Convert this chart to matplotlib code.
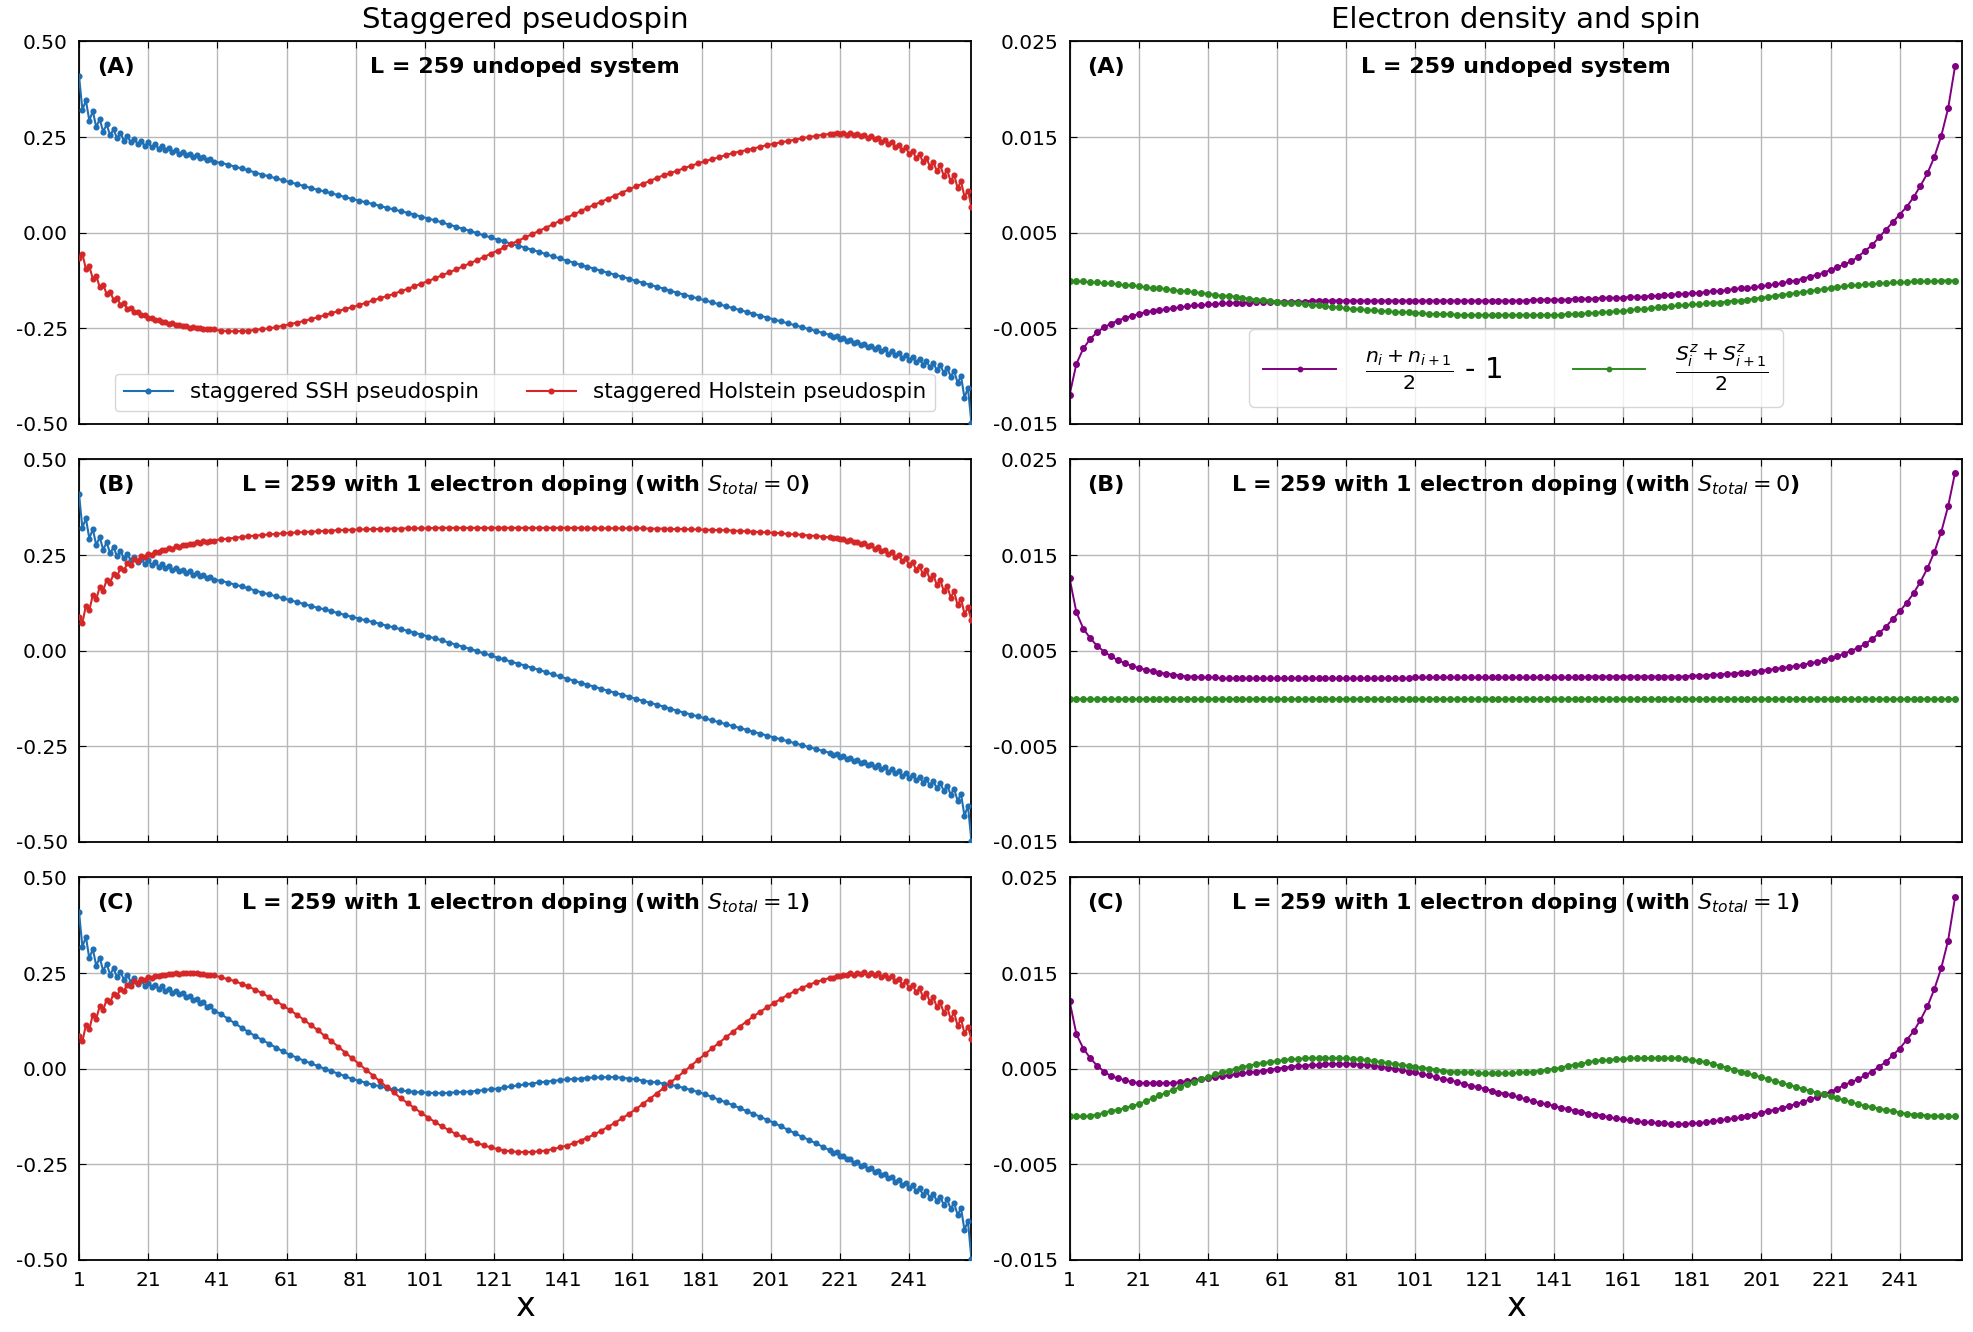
import matplotlib
matplotlib.use("Agg")
import matplotlib.pyplot as plt

plt.rcParams["axes.unicode_minus"] = False
plt.rcParams["mathtext.fontset"] = "dejavusans"

# ------------------------------------------------------------------ data
# left column: every site near the chain ends, every 2nd site in the bulk
SITES_LEFT = list(range(1, 41)) + list(range(42, 219, 2)) + list(range(219, 260))
# right column: bond averages on odd sites
SITES_RIGHT = list(range(1, 258, 2))
XTICKS = [1, 21, 41, 61, 81, 101, 121, 141, 161, 181, 201, 221, 241]

SSH_A = [
    .410, .321, .346, .293, .318, .276, .297, .264, .283, .255,
    .270, .247, .260, .241, .252, .236, .246, .231, .240, .227,
    .236, .224, .231, .220, .226, .215, .221, .211, .216, .207,
    .211, .202, .207, .198, .202, .194, .197, .189, .192, .185,
    .183, .178, .173, .168, .163, .157, .152, .147, .142, .137,
    .132, .127, .122, .117, .112, .108, .103, .098, .093, .088,
    .084, .079, .075, .070, .065, .061, .056, .052, .047, .042,
    .037, .032, .027, .021, .016, .010, .005, -.001, -.007, -.012,
    -.018, -.023, -.029, -.034, -.039, -.045, -.050, -.056, -.062, -.067,
    -.073, -.078, -.084, -.089, -.094, -.100, -.105, -.110, -.115, -.120,
    -.126, -.131, -.136, -.141, -.146, -.152, -.157, -.162, -.167, -.172,
    -.177, -.182, -.187, -.192, -.197, -.202, -.207, -.212, -.217, -.222,
    -.227, -.232, -.237, -.242, -.247, -.252, -.257, -.262, -.267,
    -.273, -.270, -.278, -.275, -.283, -.280, -.289, -.285, -.294, -.290,
    -.299, -.295, -.305, -.300, -.310, -.305, -.316, -.310, -.321, -.315,
    -.327, -.320, -.332, -.325, -.339, -.330, -.345, -.336, -.352, -.341,
    -.359, -.346, -.366, -.353, -.376, -.361, -.392, -.375, -.432, -.405,
    -.497,
]
HOL_A = [
    -.065, -.055, -.095, -.088, -.120, -.113, -.142, -.136, -.160, -.155,
    -.175, -.171, -.188, -.185, -.199, -.196, -.208, -.206, -.216, -.214,
    -.223, -.222, -.229, -.228, -.234, -.233, -.238, -.237, -.242, -.241,
    -.245, -.244, -.248, -.247, -.250, -.249, -.252, -.251, -.253, -.253,
    -.256, -.257, -.258, -.257, -.256, -.254, -.252, -.250, -.247, -.243,
    -.239, -.235, -.231, -.226, -.221, -.216, -.210, -.205, -.199, -.195,
    -.189, -.183, -.177, -.171, -.166, -.160, -.153, -.147, -.140, -.133,
    -.126, -.119, -.111, -.104, -.096, -.088, -.080, -.072, -.064, -.055,
    -.047, -.038, -.029, -.021, -.012, -.004, .005, .013, .022, .031,
    .039, .048, .056, .065, .073, .081, .089, .097, .105, .113,
    .121, .128, .135, .143, .150, .156, .162, .169, .175, .181,
    .187, .192, .197, .203, .208, .212, .216, .220, .225, .229,
    .233, .236, .240, .243, .247, .250, .253, .256, .258,
    .257, .260, .258, .261, .256, .260, .255, .258, .252, .256,
    .248, .252, .244, .247, .238, .243, .232, .237, .224, .230,
    .215, .223, .206, .214, .195, .205, .185, .196, .173, .186,
    .161, .176, .149, .164, .134, .152, .117, .134, .094, .110,
    .068,
]
SSH_B = SSH_A  # the SSH curve in (B) lies on top of the one in (A)
HOL_B = [
    .089, .073, .117, .106, .145, .134, .167, .157, .185, .178,
    .200, .195, .215, .210, .228, .223, .239, .235, .247, .244,
    .254, .251, .259, .257, .264, .262, .269, .267, .273, .272,
    .277, .276, .280, .279, .283, .282, .286, .285, .288, .288,
    .291, .293, .295, .297, .299, .301, .302, .304, .305, .307,
    .308, .309, .310, .311, .312, .313, .314, .315, .316, .316,
    .317, .317, .318, .318, .319, .319, .319, .320, .320, .320,
    .320, .321, .321, .321, .321, .321, .321, .321, .321, .321,
    .321, .321, .321, .321, .321, .321, .321, .321, .321, .321,
    .321, .321, .321, .320, .320, .320, .320, .320, .320, .320,
    .320, .320, .319, .319, .319, .318, .318, .318, .317, .317,
    .316, .316, .315, .315, .314, .313, .312, .311, .310, .309,
    .308, .307, .305, .304, .303, .301, .300, .298, .296,
    .294, .295, .291, .293, .287, .289, .283, .285, .279, .282,
    .273, .276, .267, .270, .260, .264, .253, .257, .244, .249,
    .234, .241, .224, .232, .212, .222, .200, .210, .187, .198,
    .172, .185, .156, .170, .139, .155, .119, .136, .096, .113,
    .080,
]
SSH_C = [
    .410, .318, .345, .288, .313, .269, .290, .256, .274, .246,
    .262, .239, .253, .233, .245, .227, .238, .222, .232, .216,
    .225, .214, .220, .209, .215, .204, .209, .199, .204, .194,
    .197, .187, .190, .180, .182, .172, .173, .162, .163, .152,
    .143, .131, .119, .107, .096, .085, .075, .065, .055, .045,
    .036, .029, .021, .014, .007, .000, -.007, -.013, -.020, -.027,
    -.032, -.037, -.042, -.046, -.051, -.054, -.057, -.059, -.061, -.062,
    -.063, -.064, -.064, -.063, -.062, -.061, -.060, -.058, -.056, -.054,
    -.052, -.049, -.046, -.044, -.041, -.039, -.036, -.034, -.032, -.030,
    -.028, -.027, -.026, -.024, -.023, -.023, -.022, -.022, -.024, -.026,
    -.028, -.031, -.034, -.036, -.039, -.042, -.046, -.051, -.056, -.061,
    -.067, -.074, -.081, -.088, -.095, -.103, -.111, -.118, -.126, -.134,
    -.142, -.151, -.160, -.169, -.178, -.186, -.195, -.204, -.213,
    -.220, -.219, -.229, -.227, -.237, -.236, -.246, -.243, -.254, -.251,
    -.262, -.259, -.270, -.267, -.278, -.275, -.287, -.282, -.295, -.290,
    -.303, -.298, -.312, -.305, -.320, -.313, -.329, -.320, -.337, -.327,
    -.346, -.335, -.356, -.342, -.366, -.351, -.382, -.365, -.422, -.398,
    -.497,
]
HOL_C = [
    .086, .072, .113, .103, .141, .131, .163, .154, .180, .173,
    .196, .190, .209, .204, .219, .215, .228, .225, .235, .232,
    .240, .238, .243, .242, .246, .245, .248, .247, .249, .248,
    .250, .249, .250, .249, .249, .248, .248, .246, .246, .244,
    .239, .234, .229, .222, .215, .206, .197, .187, .177, .165,
    .153, .141, .128, .114, .101, .086, .072, .057, .042, .027,
    .012, -.003, -.018, -.033, -.048, -.062, -.077, -.090, -.103, -.116,
    -.128, -.140, -.151, -.161, -.171, -.179, -.187, -.194, -.200, -.206,
    -.210, -.214, -.216, -.218, -.218, -.218, -.216, -.214, -.210, -.206,
    -.201, -.195, -.188, -.180, -.172, -.162, -.152, -.141, -.130, -.118,
    -.106, -.092, -.079, -.065, -.051, -.036, -.022, -.007, .008, .023,
    .038, .053, .067, .082, .096, .110, .123, .137, .149, .161,
    .172, .183, .193, .203, .211, .219, .226, .232, .237,
    .238, .242, .242, .246, .244, .249, .246, .250, .247, .252,
    .246, .251, .244, .249, .240, .246, .236, .241, .229, .235,
    .220, .228, .211, .219, .200, .210, .188, .198, .175, .187,
    .161, .174, .146, .161, .130, .147, .112, .130, .092, .110,
    .078,
]

DENS_A = [
    -.0120, -.0087, -.0071, -.0061, -.0054, -.0049, -.0045, -.0042, -.0039, -.0037,
    -.0035, -.0033, -.0032, -.0031, -.0030, -.0029, -.0028, -.0027, -.0026, -.0026,
    -.0025, -.0025, -.0024, -.0024, -.0023, -.0023, -.0023, -.0022, -.0022, -.0022,
    -.0022, -.0022, -.0022, -.0022, -.0022, -.0021, -.0021, -.0021, -.0021, -.0021,
    -.0021, -.0021, -.0021, -.0021, -.0021, -.0021, -.0021, -.0021, -.0021, -.0021,
    -.0021, -.0021, -.0021, -.0021, -.0021, -.0021, -.0021, -.0021, -.0021, -.0021,
    -.0021, -.0021, -.0021, -.0021, -.0021, -.0021, -.0021, -.0020, -.0020, -.0020,
    -.0020, -.0020, -.0020, -.0019, -.0019, -.0019, -.0019, -.0018, -.0018, -.0018,
    -.0018, -.0017, -.0017, -.0017, -.0016, -.0016, -.0015, -.0015, -.0014, -.0014,
    -.0013, -.0013, -.0012, -.0011, -.0011, -.0010, -.0009, -.0008, -.0008, -.0007,
    -.0006, -.0005, -.0004, -.0003, -.0001, .0000, .0002, .0004, .0006, .0008,
    .0011, .0014, .0017, .0020, .0025, .0031, .0037, .0045, .0053, .0061,
    .0069, .0077, .0087, .0099, .0112, .0129, .0151, .0180, .0224,
]
SPIN_A = [
    .0000, -.0001, -.0001, -.0002, -.0002, -.0003, -.0003, -.0004, -.0005, -.0005,
    -.0006, -.0007, -.0008, -.0008, -.0009, -.0010, -.0011, -.0011, -.0012, -.0013,
    -.0014, -.0015, -.0016, -.0016, -.0017, -.0018, -.0019, -.0020, -.0020, -.0021,
    -.0022, -.0023, -.0023, -.0024, -.0025, -.0026, -.0026, -.0027, -.0028, -.0028,
    -.0029, -.0030, -.0030, -.0031, -.0031, -.0032, -.0032, -.0033, -.0033, -.0033,
    -.0034, -.0034, -.0035, -.0035, -.0035, -.0035, -.0036, -.0036, -.0036, -.0036,
    -.0036, -.0036, -.0036, -.0036, -.0036, -.0036, -.0036, -.0036, -.0036, -.0036,
    -.0036, -.0036, -.0035, -.0035, -.0035, -.0034, -.0034, -.0033, -.0033, -.0032,
    -.0032, -.0031, -.0030, -.0030, -.0029, -.0028, -.0028, -.0027, -.0026, -.0026,
    -.0025, -.0025, -.0024, -.0023, -.0023, -.0022, -.0021, -.0021, -.0020, -.0019,
    -.0018, -.0017, -.0016, -.0015, -.0014, -.0013, -.0012, -.0011, -.0010, -.0009,
    -.0008, -.0007, -.0006, -.0005, -.0005, -.0004, -.0004, -.0003, -.0003, -.0002,
    -.0002, -.0002, -.0001, -.0001, -.0001, -.0001, .0000, .0000, .0000,
]
DENS_B = [
    .0126, .0090, .0073, .0063, .0055, .0049, .0044, .0040, .0037, .0034,
    .0032, .0030, .0029, .0027, .0026, .0025, .0024, .0023, .0023, .0022,
    .0022, .0022, .0021, .0021, .0021, .0021, .0021, .0021, .0021, .0021,
    .0021, .0021, .0021, .0021, .0021, .0021, .0021, .0021, .0021, .0021,
    .0021, .0021, .0021, .0021, .0021, .0021, .0021, .0021, .0021, .0021,
    .0022, .0022, .0022, .0022, .0022, .0022, .0022, .0022, .0022, .0022,
    .0022, .0022, .0022, .0022, .0022, .0022, .0022, .0022, .0022, .0022,
    .0022, .0022, .0022, .0022, .0022, .0023, .0023, .0023, .0023, .0023,
    .0023, .0023, .0023, .0023, .0023, .0023, .0023, .0023, .0023, .0023,
    .0024, .0024, .0024, .0025, .0025, .0026, .0026, .0027, .0027, .0028,
    .0029, .0030, .0031, .0032, .0033, .0034, .0035, .0037, .0038, .0040,
    .0042, .0044, .0047, .0050, .0053, .0057, .0062, .0068, .0075, .0083,
    .0091, .0100, .0110, .0122, .0136, .0153, .0174, .0201, .0236,
]
SPIN_B = [
    0., 0., 0., 0., 0., 0., 0., 0., 0., 0., 0., 0., 0., 0., 0., 0.,
    0., 0., 0., 0., 0., 0., 0., 0., 0., 0., 0., 0., 0., 0., 0., 0.,
    0., 0., 0., 0., 0., 0., 0., 0., 0., 0., 0., 0., 0., 0., 0., 0.,
    0., 0., 0., 0., 0., 0., 0., 0., 0., 0., 0., 0., 0., 0., 0., 0.,
    0., 0., 0., 0., 0., 0., 0., 0., 0., 0., 0., 0., 0., 0., 0., 0.,
    0., 0., 0., 0., 0., 0., 0., 0., 0., 0., 0., 0., 0., 0., 0., 0.,
    0., 0., 0., 0., 0., 0., 0., 0., 0., 0., 0., 0., 0., 0., 0., 0.,
    0., 0., 0., 0., 0., 0., 0., 0., 0., 0., 0., 0., 0., 0., 0., 0.,
    0.,
]
DENS_C = [
    .0121, .0086, .0071, .0061, .0053, .0047, .0042, .0040, .0038, .0036,
    .0035, .0035, .0035, .0035, .0035, .0035, .0036, .0037, .0038, .0039,
    .0040, .0041, .0042, .0043, .0044, .0045, .0046, .0047, .0048, .0049,
    .0050, .0051, .0052, .0053, .0053, .0054, .0054, .0055, .0055, .0055,
    .0055, .0055, .0054, .0054, .0053, .0052, .0051, .0050, .0049, .0047,
    .0046, .0044, .0043, .0041, .0039, .0038, .0036, .0034, .0032, .0031,
    .0029, .0027, .0025, .0024, .0022, .0020, .0018, .0016, .0014, .0013,
    .0011, .0009, .0008, .0006, .0005, .0003, .0002, .0001, -.0001, -.0002,
    -.0003, -.0004, -.0005, -.0006, -.0006, -.0007, -.0007, -.0008, -.0008, -.0008,
    -.0007, -.0007, -.0006, -.0005, -.0004, -.0003, -.0002, -.0001, .0001, .0002,
    .0004, .0006, .0007, .0009, .0011, .0013, .0015, .0018, .0020, .0023,
    .0026, .0029, .0033, .0036, .0039, .0043, .0047, .0052, .0057, .0064,
    .0071, .0080, .0089, .0101, .0115, .0133, .0155, .0184, .0229,
]
SPIN_C = [
    .0000, .0000, .0000, .0001, .0002, .0004, .0006, .0007, .0009, .0011,
    .0013, .0016, .0019, .0022, .0025, .0028, .0031, .0034, .0036, .0039,
    .0041, .0044, .0046, .0048, .0050, .0052, .0053, .0055, .0056, .0057,
    .0058, .0059, .0060, .0060, .0061, .0061, .0061, .0061, .0061, .0061,
    .0061, .0060, .0060, .0059, .0058, .0057, .0056, .0055, .0054, .0053,
    .0052, .0051, .0050, .0049, .0048, .0047, .0047, .0046, .0046, .0045,
    .0045, .0045, .0045, .0045, .0045, .0046, .0046, .0047, .0048, .0049,
    .0050, .0051, .0053, .0054, .0055, .0057, .0058, .0059, .0059, .0060,
    .0060, .0061, .0061, .0061, .0061, .0061, .0061, .0061, .0061, .0060,
    .0059, .0058, .0057, .0055, .0053, .0051, .0049, .0047, .0045, .0043,
    .0041, .0039, .0037, .0035, .0033, .0031, .0029, .0027, .0025, .0023,
    .0021, .0019, .0017, .0015, .0013, .0011, .0010, .0008, .0007, .0006,
    .0004, .0003, .0002, .0002, .0001, .0001, .0000, .0000, .0000,
]

PANEL_TAGS = ["(A)", "(B)", "(C)"]
PANEL_TITLES = [
    "L = 259 undoped system",
    r"L = 259 with 1 electron doping (with $S_{total} = 0$)",
    r"L = 259 with 1 electron doping (with $S_{total} = 1$)",
]

SSH_COLOR = "#1f6fb4"
HOL_COLOR = "#d62728"
DENS_COLOR = "#800080"
SPIN_COLOR = "#2e8b22"

# ------------------------------------------------------------------ layout
fig = plt.figure(figsize=(19.74, 13.32), dpi=100)
COL_X = [0.0400, 0.5418]
ROW_Y = [0.6817, 0.3679, 0.0541]
AX_W, AX_H = 0.4521, 0.2872


def style_axes(ax, ylim, yticks, yfmt, bottom):
    ax.set_xlim(1, 259)
    ax.set_ylim(*ylim)
    ax.set_xticks(XTICKS)
    ax.set_yticks(yticks)
    ax.set_yticklabels([yfmt % v for v in yticks])
    if not bottom:
        ax.set_xticklabels([])
    ax.grid(True, color="#b8b8b8", linewidth=1.0)
    ax.set_axisbelow(True)
    ax.tick_params(direction="in", top=True, right=True, length=5,
                   labelsize=14.5, pad=8)
    for sp in ax.spines.values():
        sp.set_linewidth(1.3)


def label_panel(ax, row):
    ax.text(0.02, 0.932, PANEL_TAGS[row], transform=ax.transAxes,
            fontsize=16, fontweight="bold", ha="left", va="center")
    ax.text(0.5, 0.932, PANEL_TITLES[row], transform=ax.transAxes,
            fontsize=16, fontweight="bold", ha="center", va="center")


left_data = [(SSH_A, HOL_A), (SSH_B, HOL_B), (SSH_C, HOL_C)]
right_data = [(DENS_A, SPIN_A), (DENS_B, SPIN_B), (DENS_C, SPIN_C)]

for row in range(3):
    bottom = row == 2

    # Staggered pseudospin
    ax = fig.add_axes([COL_X[0], ROW_Y[row], AX_W, AX_H])
    ssh, hol = left_data[row]
    ax.plot(SITES_LEFT, ssh, "-o", color=SSH_COLOR, lw=1.5, ms=3.4,
            label="staggered SSH pseudospin", zorder=3)
    ax.plot(SITES_LEFT, hol, "-o", color=HOL_COLOR, lw=1.5, ms=3.4,
            label="staggered Holstein pseudospin", zorder=3)
    style_axes(ax, (-0.5, 0.5), [-0.5, -0.25, 0.0, 0.25, 0.5], "%.2f", bottom)
    label_panel(ax, row)
    if row == 0:
        ax.legend(loc="lower center", ncol=2, fontsize=15.5, handlelength=2.3,
                  columnspacing=2.2, borderaxespad=0.6)
    if bottom:
        ax.set_xlabel("x", fontsize=24, labelpad=0)

    # Electron density and spin
    ax = fig.add_axes([COL_X[1], ROW_Y[row], AX_W, AX_H])
    dens, spin = right_data[row]
    ax.plot(SITES_RIGHT, dens, "-o", color=DENS_COLOR, lw=1.4, ms=4,
            label=r"$\frac{n_i + n_{i+1}}{2}$ - 1")
    ax.plot(SITES_RIGHT, spin, "-o", color=SPIN_COLOR, lw=1.4, ms=4,
            label=r"$\frac{S^z_i + S^z_{i+1}}{2}$")
    style_axes(ax, (-0.015, 0.025), [-0.015, -0.005, 0.005, 0.015, 0.025],
               "%.3f", bottom)
    label_panel(ax, row)
    if row == 0:
        ax.legend(loc="lower center", bbox_to_anchor=(0.5, 0.044), ncol=2,
                  fontsize=21, handlelength=2.5, handletextpad=1.0,
                  columnspacing=2.4, borderpad=0.5, borderaxespad=0,
                  markerscale=0.8)
    if bottom:
        ax.set_xlabel("x", fontsize=24, labelpad=0)

fig.text(0.266, 0.985, "Staggered pseudospin", fontsize=21,
         ha="center", va="center")
fig.text(0.768, 0.985, "Electron density and spin", fontsize=21,
         ha="center", va="center")

fig.savefig("out.png", dpi=100)
